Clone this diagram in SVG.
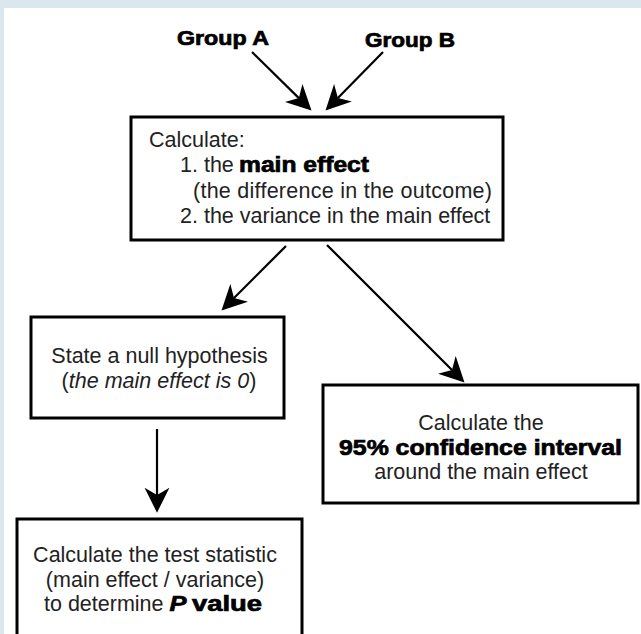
<svg xmlns="http://www.w3.org/2000/svg" width="641" height="634" viewBox="0 0 641 634">
<style>
.box{fill:#fff;stroke:#000;stroke-width:3}
.con{fill:none;stroke:#000;stroke-width:2.2}
.t{font-family:"Liberation Sans",Arial,Helvetica,sans-serif;font-size:21.5px;fill:#222}
.m{text-anchor:middle}
.blk{font-family:"Liberation Sans",Arial,Helvetica,sans-serif;font-weight:bold;fill:#000;stroke:#000;stroke-width:0.7}
.it{font-style:italic}
</style>
<defs>
<marker id="ah" markerUnits="userSpaceOnUse" markerWidth="26" markerHeight="26" viewBox="0 -12 25 24" refX="7" refY="0" orient="auto">
<path d="M0,-12 L24,0 L0,12 L7,0 Z" fill="#000"/>
</marker>
</defs>
<rect x="0" y="0" width="641" height="634" fill="#dae7ef"/>
<rect x="4" y="8" width="637" height="626" fill="#fff"/>

<g id="groupA"><text class="blk" x="177" y="45" font-size="19.5" textLength="92" lengthAdjust="spacingAndGlyphs">Group A</text></g>
<g id="groupB"><text class="blk" x="365" y="47" font-size="19.5" textLength="90" lengthAdjust="spacingAndGlyphs">Group B</text></g>

<g id="calculate">
<rect class="box" x="131" y="117" width="372" height="123"/>
<text class="t" x="149" y="147">Calculate:</text>
<text class="t" x="180" y="172">1. the <tspan class="blk" x="239" textLength="130" lengthAdjust="spacingAndGlyphs">main effect</tspan></text>
<text class="t" x="193" y="198" textLength="299">(the difference in the outcome)</text>
<text class="t" x="180" y="223">2. the variance in the main effect</text>
</g>

<g id="null">
<rect class="box" x="31" y="317" width="253" height="101"/>
<text class="t m" x="159.5" y="363">State a null hypothesis</text>
<text class="t m" x="159" y="388">(<tspan class="it">the main effect is 0</tspan>)</text>
</g>

<g id="ci">
<rect class="box" x="323" y="385" width="315" height="118"/>
<text class="t m" x="481" y="430">Calculate the</text>
<text class="blk" x="339" y="455" font-size="21.5" textLength="283" lengthAdjust="spacingAndGlyphs">95% confidence interval</text>
<text class="t m" x="481" y="479">around the main effect</text>
</g>

<g id="test">
<rect class="box" x="17" y="519" width="285" height="130"/>
<text class="t m" x="155" y="562">Calculate the test statistic</text>
<text class="t m" x="155" y="587">(main effect / variance)</text>
<text class="t" x="44" y="611">to determine <tspan class="blk it" x="169.5" textLength="17" lengthAdjust="spacingAndGlyphs">P</tspan><tspan class="blk" x="192" textLength="70" lengthAdjust="spacingAndGlyphs">value</tspan></text>
</g>

<g id="connectors">
<path class="con" d="M252,52 L298.9,98.1" marker-end="url(#ah)"/>
<path class="con" d="M383,52 L337.9,97.9" marker-end="url(#ah)"/>
<path class="con" d="M286,246 L234,298" marker-end="url(#ah)"/>
<path class="con" d="M327,245 L452,370" marker-end="url(#ah)"/>
<path class="con" d="M157,429 L157,495" marker-end="url(#ah)"/>
</g>
</svg>
